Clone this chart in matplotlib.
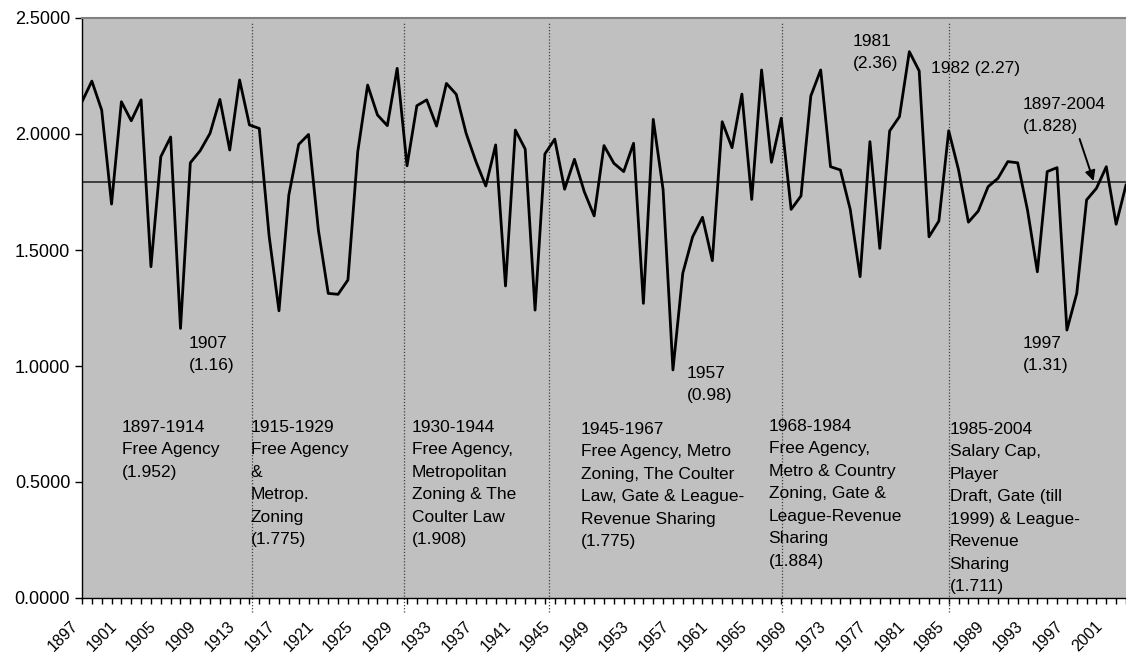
import numpy as np
import matplotlib.pyplot as plt
import matplotlib.transforms as mtransforms

plt.rcParams['font.family'] = ['Liberation Sans', 'DejaVu Sans']

# seasons shown in the picture (the frame cuts off after 2003)
years = list(range(1897, 2004))
ratio = [2.139, 2.228, 2.103, 1.698, 2.139, 2.057, 2.147, 1.428, 1.902, 1.987,
         1.162, 1.876, 1.928, 2.003, 2.149, 1.931, 2.233, 2.039, 2.024, 1.560,
         1.238, 1.737, 1.955, 1.998, 1.586, 1.313, 1.309, 1.371, 1.924, 2.211,
         2.082, 2.036, 2.283, 1.863, 2.122, 2.147, 2.034, 2.218, 2.171, 2.003,
         1.881, 1.776, 1.953, 1.345, 2.017, 1.935, 1.241, 1.914, 1.978, 1.762,
         1.891, 1.751, 1.647, 1.950, 1.874, 1.838, 1.960, 1.270, 2.063, 1.760,
         0.983, 1.400, 1.557, 1.641, 1.454, 2.053, 1.941, 2.172, 1.718, 2.276,
         1.878, 2.068, 1.675, 1.733, 2.164, 2.276, 1.859, 1.845, 1.675, 1.385,
         1.967, 1.507, 2.013, 2.075, 2.355, 2.272, 1.557, 1.625, 2.014, 1.845,
         1.620, 1.668, 1.773, 1.809, 1.881, 1.876, 1.672, 1.406, 1.838, 1.855,
         1.155, 1.313, 1.716, 1.766, 1.859, 1.611, 1.780]
mean_line = 1.794

# era boundaries (category positions, drawn by hand in the original)
boundaries = [17.3, 32.7, 47.4, 71.05, 88.0]

era_labels = [
    "1897-1914\nFree Agency\n(1.952)",
    "1915-1929\nFree Agency\n&\nMetrop.\nZoning\n(1.775)",
    "1930-1944\nFree Agency,\nMetropolitan\nZoning & The\nCoulter Law\n(1.908)",
    "1945-1967\nFree Agency, Metro\nZoning, The Coulter\nLaw, Gate & League-\nRevenue Sharing\n(1.775)",
    "1968-1984\nFree Agency,\nMetro & Country\nZoning, Gate &\nLeague-Revenue\nSharing\n(1.884)",
    "1985-2004\nSalary Cap,\nPlayer\nDraft, Gate (till\n1999) & League-\nRevenue\nSharing\n(1.711)",
]
era_pos = [(122, 419), (251, 419), (412, 419), (581, 421), (769, 418), (950, 421)]

notes = ["1907\n(1.16)", "1957\n(0.98)", "1981\n(2.36)", "1982 (2.27)", "1997\n(1.31)",
         "1897-2004\n(1.828)"]
note_pos = [(189, 335), (687, 365), (853, 33), (931, 60), (1023, 335), (1023, 96)]

fig = plt.figure(figsize=(11.26, 6.55), dpi=100)
ax = fig.add_axes([82 / 1126, 1 - 598 / 655, 1 - 82 / 1126, (598 - 18) / 655])
ax.set_facecolor('#c0c0c0')

x = np.arange(len(years))
ax.plot(x, ratio, color='black', lw=2, zorder=3)
ax.axhline(mean_line, color='#333333', lw=1.3, zorder=2)

for b in boundaries:
    ax.plot([b, b], [-0.06, 2.478], color='#404040', lw=0.9, ls=(0, (1, 1.5)),
            clip_on=False, zorder=2)

ax.set_xlim(0, 105.96)
ax.set_ylim(0, 2.5)

# pixel -> data helpers for placing the text
def px2x(px):
    return (px - 82.3) / 9.85

def px2y(py):
    return (598 - py) / 232

for txt, (px, py) in zip(era_labels + notes, era_pos + note_pos):
    ax.text(px2x(px), px2y(py + 1), txt, fontsize=12.5, ha='left', va='top',
            linespacing=1.62, zorder=4)

ax.annotate("", xy=(px2x(1094), px2y(181)), xytext=(px2x(1080), px2y(139)),
            arrowprops=dict(arrowstyle='-|>', color='black', lw=1.4,
                            shrinkA=0, shrinkB=0, mutation_scale=15),
            zorder=4)

ax.set_yticks(np.arange(0, 2.51, 0.5))
ax.set_yticklabels([f"{v:.4f}" for v in np.arange(0, 2.51, 0.5)], fontsize=13)
ax.set_xticks(x)
ax.set_xticklabels([str(y) if (y - 1897) % 4 == 0 else '' for y in years],
                   rotation=45, ha='right', rotation_mode='anchor', fontsize=11.5)
ax.tick_params(axis='both', direction='out', length=5, width=1, color='black')
ax.tick_params(axis='x', length=4, pad=3)

shift = mtransforms.ScaledTranslation(-12 / 100, -11 / 100, fig.dpi_scale_trans)
for lab in ax.get_xticklabels():
    lab.set_transform(lab.get_transform() + shift)

for s in ['left', 'bottom']:
    ax.spines[s].set_color('black')
    ax.spines[s].set_linewidth(1)
ax.spines['top'].set_color('#808080')
ax.spines['top'].set_linewidth(1.5)
ax.spines['right'].set_visible(False)

fig.savefig('out.png', dpi=100)
